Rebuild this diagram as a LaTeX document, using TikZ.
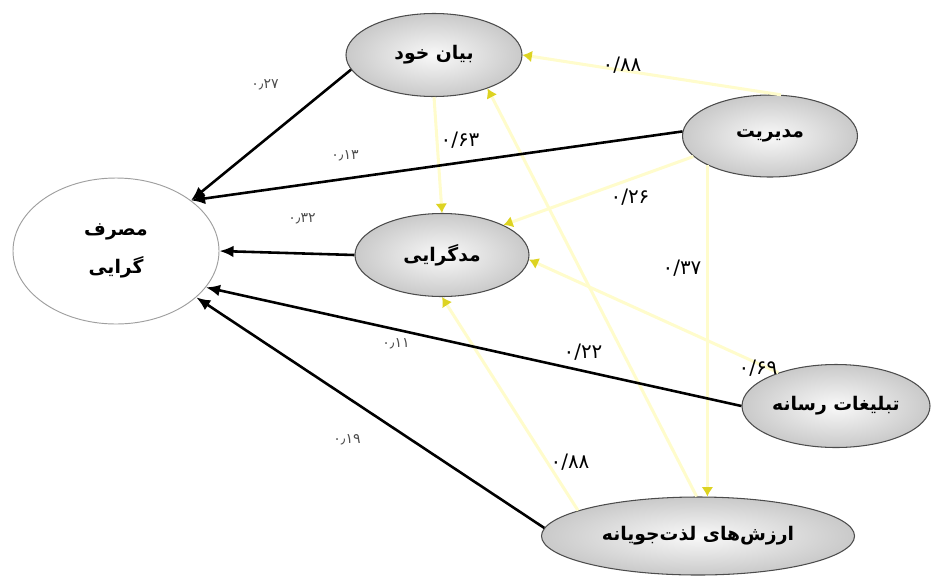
\documentclass[tikz,border=0pt]{standalone}
\usepackage{fontspec}
\newfontfamily\arabicfont[Script=Arabic]{DejaVu Sans}
\TeXXeTstate=1
\usetikzlibrary{shapes,arrows.meta,positioning}

\begin{document}
\begin{tikzpicture}[x=0.03cm,y=-0.03cm]
    \tikzstyle{latent}=[ellipse,draw=black!70,line width=0.9pt,inner sep=0pt,
      shading=radial,inner color=gray!5,outer color=gray!42,
      font=\arabicfont\bfseries\fontsize{16}{18}\selectfont]
    \tikzstyle{outcome}=[ellipse,draw=gray!75,line width=0.8pt,fill=white,
      inner sep=0pt,align=center,font=\arabicfont\bfseries\fontsize{16}{18}\selectfont]
    \tikzstyle{pathval}=[font=\arabicfont\fontsize{17}{19}\selectfont]
    \tikzstyle{coefval}=[font=\arabicfont\fontsize{12}{14}\selectfont,text=gray!60!black]
    \tikzstyle{effect}=[line width=2.2pt,-{Latex[length=12pt,width=10pt]}]
    \tikzstyle{link}=[line width=2.6pt,draw=yellow!20!white,
      -{Latex[length=8pt,width=10pt,color=yellow!85!black]}]

    \useasboundingbox (0,0) rectangle (931,577);

    % constructs
    \node[outcome,minimum width=6.18cm,minimum height=4.38cm] (masraf) at (116,251)
      {\beginR مصرف\endR\\[13pt]\beginR گرایی\endR};
    \node[latent,minimum width=5.28cm,minimum height=2.49cm] (bayan)   at (434,55)  {\beginR بیان خود\endR};
    \node[latent,minimum width=5.25cm,minimum height=2.46cm] (modir)   at (770,136) {\beginR مدیریت\endR};
    \node[latent,minimum width=5.22cm,minimum height=2.49cm] (modgar)  at (442,255) {\beginR مدگرایی\endR};
    \node[latent,minimum width=5.64cm,minimum height=2.49cm] (tabligh) at (836,406) {\beginR تبلیغات رسانه\endR};
    \node[latent,minimum width=9.39cm,minimum height=2.34cm] (arzesh)  at (698,536) {\beginR ارزش‌های لذت‌جویانه\endR};

    % paths between constructs
    \draw[link] (modir.75)    -- (bayan.east);
    \draw[link] (bayan.south) -- (modgar.north);
    \draw[link] (modir.195)   -- (modgar.26);
    \draw[link] (modir.205)   -- (modir.205 |- arzesh.north);
    \draw[link] (tabligh.150) -- (modgar.-3);
    \draw[link] (arzesh.92)   -- (bayan.-32);
    \draw[link] (arzesh.168)  -- (modgar.south);

    % effects on the outcome
    \draw[effect] (bayan.190)  -- (masraf.34);
    \draw[effect] (modir.177)  -- (masraf.34);
    \draw[effect] (modgar.west) -- (masraf.0);
    \draw[effect] (tabligh.west) -- (masraf.-22);
    \draw[effect] (arzesh.177) -- (masraf.-30);

    % coefficients
    \node[pathval] (p88a) at (622,65)  {۰/۸۸};
    \node[pathval] (p63)  at (460,140) {۰/۶۳};
    \node[pathval] (p26)  at (630,197) {۰/۲۶};
    \node[pathval] (p37)  at (682,268) {۰/۳۷};
    \node[pathval] (p22)  at (583,352) {۰/۲۲};
    \node[pathval] (p69)  at (758,368) {۰/۶۹};
    \node[pathval] (p88b) at (570,462) {۰/۸۸};

    \node[coefval] (c27) at (265,85)  {۰٫۲۷};
    \node[coefval] (c13) at (345,156) {۰٫۱۳};
    \node[coefval] (c32) at (302,219) {۰٫۳۲};
    \node[coefval] (c11) at (396,344) {۰٫۱۱};
    \node[coefval] (c19) at (347,440) {۰٫۱۹};
\end{tikzpicture}
\end{document}
